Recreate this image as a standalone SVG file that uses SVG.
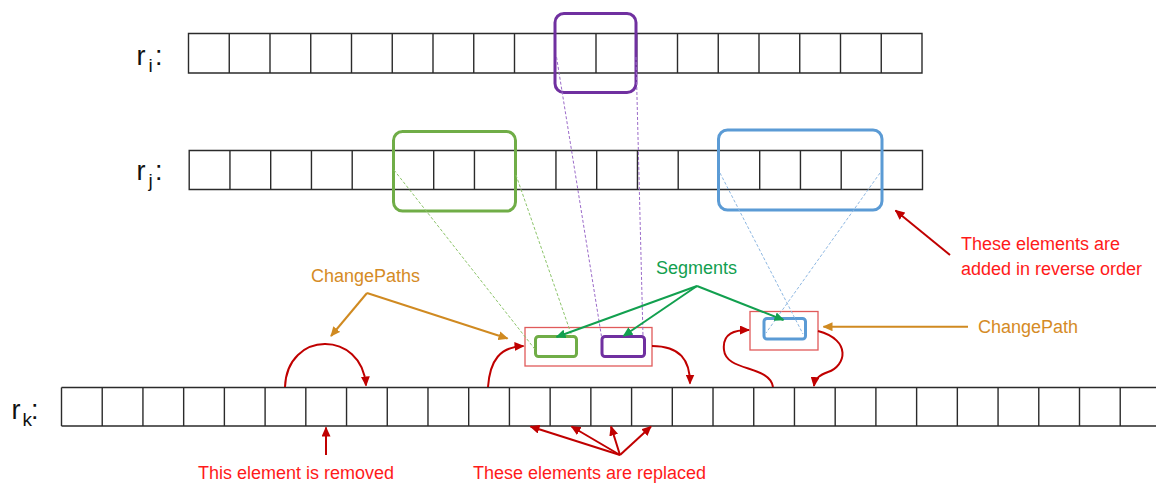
<svg xmlns="http://www.w3.org/2000/svg" width="1156" height="483" viewBox="0 0 1156 483">
  <defs>
    <style>
      text { font-family: "Liberation Sans", Arial, sans-serif; }
      .row { fill: none; stroke: #2b2b2b; stroke-width: 1.4; }
      .lbl { fill: #111; font-size: 27px; }
      .sub { font-size: 19px; }
      .sel { fill: none; stroke-width: 3; }
      .seg { fill: none; stroke-width: 3; }
      .cp { fill: none; stroke: #E05A5A; stroke-width: 1.3; }
      .dash { fill: none; stroke-width: 1; stroke-dasharray: 3 2; }
      .red { fill: none; stroke: #C00000; stroke-width: 2; marker-end: url(#ahRed); }
      .orange { fill: none; stroke: #D08A21; stroke-width: 2; }
      .green { fill: none; stroke: #12A04F; stroke-width: 2; }
      .tRed { fill: #FF1A1A; font-size: 18px; }
      .tOrange { fill: #D58B25; font-size: 18px; }
      .tGreen { fill: #12A04F; font-size: 18px; }
    </style>
    <marker id="ahRed" markerUnits="userSpaceOnUse" markerWidth="10" markerHeight="9" refX="9" refY="4.5" orient="auto">
      <path d="M0,0 L10,4.5 L0,9 z" fill="#C00000"/>
    </marker>
    <marker id="ahOrange" markerUnits="userSpaceOnUse" markerWidth="10" markerHeight="9" refX="9" refY="4.5" orient="auto">
      <path d="M0,0 L10,4.5 L0,9 z" fill="#D08A21"/>
    </marker>
    <marker id="ahGreen" markerUnits="userSpaceOnUse" markerWidth="10" markerHeight="9" refX="9" refY="4.5" orient="auto">
      <path d="M0,0 L10,4.5 L0,9 z" fill="#12A04F"/>
    </marker>
  </defs>

  <rect width="1156" height="483" fill="#fff"/>

  <!-- array r_i -->
  <g id="row-ri">
    <text class="lbl" x="136.5" y="65">r</text>
    <text class="lbl sub" x="148.5" y="71.7">i</text>
    <text class="lbl" x="155" y="65">:</text>
    <path class="row" d="M188.5 33.5H922V73H188.5Z
      M229.25 33.5v39.5m40.75 -39.5v39.5m40.75 -39.5v39.5m40.75 -39.5v39.5m40.75 -39.5v39.5m40.75 -39.5v39.5
      m40.75 -39.5v39.5m40.75 -39.5v39.5m40.75 -39.5v39.5m40.75 -39.5v39.5m40.75 -39.5v39.5m40.75 -39.5v39.5
      m40.75 -39.5v39.5m40.75 -39.5v39.5m40.75 -39.5v39.5m40.75 -39.5v39.5m40.75 -39.5v39.5"/>
  </g>

  <!-- array r_j -->
  <g id="row-rj">
    <text class="lbl" x="136.5" y="180">r</text>
    <text class="lbl sub" x="148.5" y="187">j</text>
    <text class="lbl" x="155" y="180">:</text>
    <path class="row" d="M189.2 150.5H922.5V189.5H189.2Z
      M229.95 150.5v39m40.75 -39v39m40.75 -39v39m40.75 -39v39m40.75 -39v39m40.75 -39v39
      m40.75 -39v39m40.75 -39v39m40.75 -39v39m40.75 -39v39m40.75 -39v39m40.75 -39v39
      m40.75 -39v39m40.75 -39v39m40.75 -39v39m40.75 -39v39m40.75 -39v39"/>
  </g>

  <!-- array r_k (runs off the right edge) -->
  <g id="row-rk">
    <text class="lbl" x="11.5" y="418.5">r</text>
    <text class="lbl sub" x="22.5" y="426">k</text>
    <text class="lbl" x="31" y="418.5">:</text>
    <path class="row" d="M61.5 387.5H1156M61.5 426H1156M61.5 387.5V426
      M102.22 387.5v38.5m40.72 -38.5v38.5m40.72 -38.5v38.5m40.72 -38.5v38.5m40.72 -38.5v38.5m40.72 -38.5v38.5
      m40.72 -38.5v38.5m40.72 -38.5v38.5m40.72 -38.5v38.5m40.72 -38.5v38.5m40.72 -38.5v38.5m40.72 -38.5v38.5
      m40.72 -38.5v38.5m40.72 -38.5v38.5m40.72 -38.5v38.5m40.72 -38.5v38.5m40.72 -38.5v38.5m40.72 -38.5v38.5
      m40.72 -38.5v38.5m40.72 -38.5v38.5m40.72 -38.5v38.5m40.72 -38.5v38.5m40.72 -38.5v38.5m40.72 -38.5v38.5
      m40.72 -38.5v38.5m40.72 -38.5v38.5"/>
  </g>

  <!-- selections in the source arrays -->
  <g id="sel-purple"><rect class="sel" x="555" y="13.5" width="81" height="79" rx="9" stroke="#7030A0"/></g>
  <g id="sel-green"><rect class="sel" x="393.5" y="131.5" width="122" height="79.5" rx="9" stroke="#70AD47"/></g>
  <g id="sel-blue"><rect class="sel" x="718.5" y="130" width="163.5" height="80" rx="9" stroke="#5B9BD5"/></g>

  <!-- change paths with their segments -->
  <g id="changepath-1">
    <rect class="cp" x="525" y="327.5" width="127" height="38.5"/>
    <rect class="seg" x="535.5" y="336.5" width="41" height="20" rx="3" stroke="#70AD47"/>
    <rect class="seg" x="602" y="336.5" width="42.5" height="20" rx="3" stroke="#7030A0"/>
  </g>
  <g id="changepath-2">
    <rect class="cp" x="750" y="311.5" width="68" height="38.5"/>
    <rect class="seg" x="764" y="318.5" width="41.5" height="20.5" rx="3" stroke="#5B9BD5"/>
  </g>

  <!-- captions -->
  <g id="label-changepaths"><text class="tOrange" x="311" y="281.5">ChangePaths</text></g>
  <g id="label-segments"><text class="tGreen" x="656" y="274">Segments</text></g>
  <g id="label-changepath"><text class="tOrange" x="978" y="332.5">ChangePath</text></g>
  <g id="label-reverse">
    <text class="tRed" x="961" y="250">These elements are</text>
    <text class="tRed" x="961" y="274.5">added in reverse order</text>
  </g>
  <g id="label-removed"><text class="tRed" x="198" y="479">This element is removed</text></g>
  <g id="label-replaced"><text class="tRed" x="473" y="479">These elements are replaced</text></g>

  <g id="connectors">
    <!-- projection guides -->
    <path class="dash" stroke="#9B6BC9" d="M556.5 57L601.5 336.5M636 57L643 336.5"/>
    <path class="dash" stroke="#8CC46A" d="M394 170L535.5 350M516 175L572 336.5"/>
    <path class="dash" stroke="#8DB7E2" d="M720 173L803 334M880 173L766 333"/>

    <!-- ChangePaths pointers -->
    <path class="orange" marker-end="url(#ahOrange)" d="M367 293L331 336"/>
    <path class="orange" marker-end="url(#ahOrange)" d="M367 293L507.5 338.5"/>
    <path class="orange" marker-end="url(#ahOrange)" d="M968 326.7H823.5"/>

    <!-- Segments pointers -->
    <path class="green" marker-end="url(#ahGreen)" d="M697 286L556.5 337"/>
    <path class="green" marker-end="url(#ahGreen)" d="M697 286L623.5 336"/>
    <path class="green" marker-end="url(#ahGreen)" d="M697 286L783.5 320"/>

    <!-- change path hops over r_k -->
    <path class="red" d="M285 387C287 330 362 330 366 385.5"/>
    <path class="red" d="M488 387C490 360 500 347 523.5 346"/>
    <path class="red" d="M652 346C680 346 690 360 690 383.5"/>
    <path class="red" d="M773 387C770 365 726 372 724 350C722 333 735 330 749 330"/>
    <path class="red" d="M818 331C852 340 846 366 828 372C820 375 815 378 814 386"/>

    <!-- annotation pointers -->
    <path class="red" d="M326 455V427.5"/>
    <path class="red" d="M620 455L530.5 426.5"/>
    <path class="red" d="M620 455L571.5 426.5"/>
    <path class="red" d="M620 455L611 426.5"/>
    <path class="red" d="M620 455L651 426.5"/>
    <path class="red" d="M950 255L895.5 210.5"/>
  </g>
</svg>
